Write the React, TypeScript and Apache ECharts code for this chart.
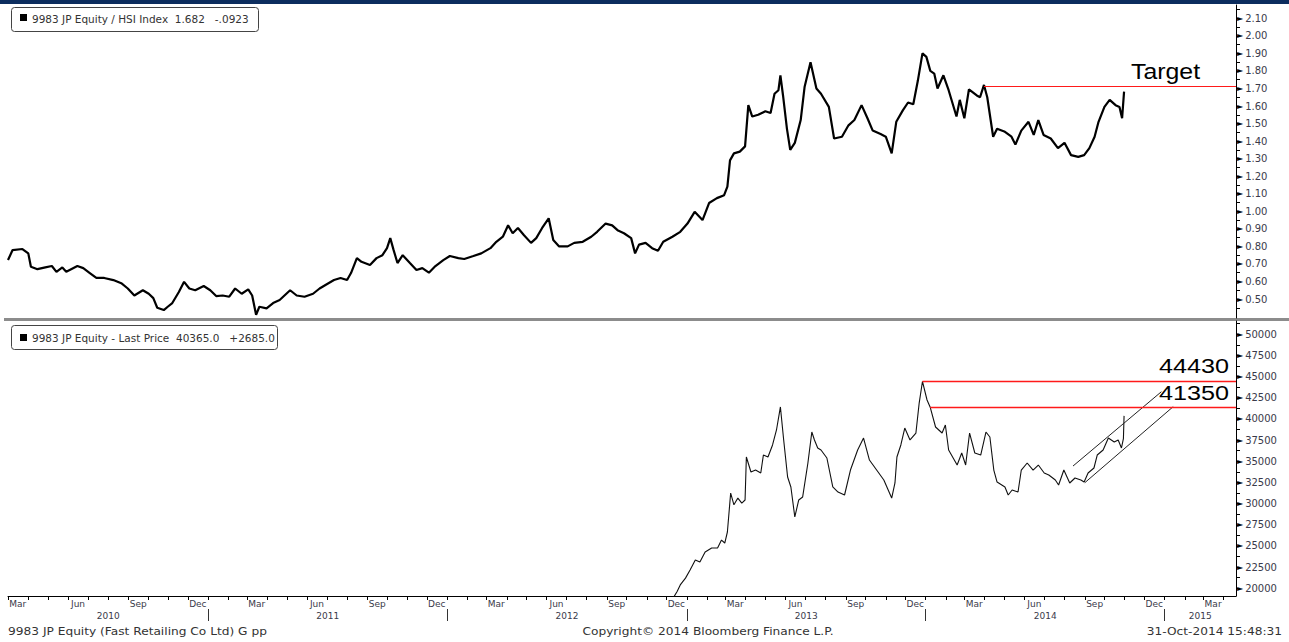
import React, { useEffect, useRef } from 'react';
import * as echarts from 'echarts';

// ---- Data: 9983 JP Equity / HSI Index ratio (top panel) ----
const ratioDates = [
  '2010-03-01','2010-03-08','2010-03-23','2010-04-01','2010-04-05','2010-04-15','2010-04-27','2010-05-07','2010-05-14','2010-05-23',
  '2010-05-29','2010-06-15','2010-06-24','2010-07-04','2010-07-14','2010-07-26','2010-08-09','2010-08-21','2010-08-31','2010-09-10',
  '2010-09-23','2010-10-02','2010-10-09','2010-10-15','2010-10-25','2010-10-31','2010-11-07','2010-11-17','2010-11-25','2010-12-03',
  '2010-12-12','2010-12-25','2011-01-04','2011-01-13','2011-01-23','2011-02-02','2011-02-11','2011-02-21','2011-03-03','2011-03-09',
  '2011-03-15','2011-03-20','2011-03-31','2011-04-10','2011-04-20','2011-05-06','2011-05-16','2011-05-28','2011-06-10','2011-06-20',
  '2011-06-29','2011-07-12','2011-07-22','2011-08-01','2011-08-07','2011-08-16','2011-08-23','2011-09-05','2011-09-15','2011-09-24',
  '2011-10-01','2011-10-06','2011-10-11','2011-10-17','2011-10-25','2011-11-05','2011-11-15','2011-11-24','2011-12-04','2011-12-14',
  '2011-12-26','2012-01-05','2012-01-18','2012-01-27','2012-02-10','2012-02-22','2012-03-07','2012-03-16','2012-03-26','2012-04-03',
  '2012-04-10','2012-04-18','2012-04-27','2012-05-08','2012-05-16','2012-05-25','2012-06-04','2012-06-11','2012-06-20','2012-07-03',
  '2012-07-13','2012-07-26','2012-08-08','2012-08-17','2012-08-30','2012-09-09','2012-09-18','2012-09-27','2012-10-08','2012-10-14',
  '2012-10-20','2012-10-30','2012-11-09','2012-11-18','2012-11-26','2012-12-10','2012-12-22','2013-01-02','2013-01-13','2013-01-25',
  '2013-02-04','2013-02-16','2013-02-27','2013-03-04','2013-03-08','2013-03-14','2013-03-23','2013-03-31','2013-04-05','2013-04-11',
  '2013-04-20','2013-05-01','2013-05-09','2013-05-15','2013-05-21','2013-05-24','2013-05-28','2013-06-03','2013-06-08','2013-06-15',
  '2013-06-24','2013-06-30','2013-07-09','2013-07-18','2013-07-25','2013-08-06','2013-08-14','2013-08-26','2013-09-05','2013-09-14',
  '2013-09-25','2013-10-04','2013-10-12','2013-10-24','2013-11-01','2013-11-10','2013-11-17','2013-11-27','2013-12-05','2013-12-13',
  '2013-12-20','2013-12-27','2014-01-02','2014-01-08','2014-01-14','2014-01-19','2014-01-28','2014-02-05','2014-02-17','2014-02-22',
  '2014-03-01','2014-03-08','2014-03-20','2014-03-25','2014-03-31','2014-04-05','2014-04-14','2014-04-20','2014-05-01','2014-05-12',
  '2014-05-18','2014-05-27','2014-06-07','2014-06-15','2014-06-22','2014-06-30','2014-07-11','2014-07-22','2014-08-01','2014-08-11',
  '2014-08-22','2014-08-31','2014-09-08','2014-09-16','2014-09-22','2014-10-01','2014-10-09','2014-10-18','2014-10-24','2014-10-28',
  '2014-10-31'
];
const ratioValues = [
  0.722,0.779,0.785,0.76,0.684,0.67,0.68,0.688,0.655,0.68,
  0.655,0.688,0.676,0.648,0.62,0.62,0.608,0.59,0.56,0.52,
  0.55,0.53,0.505,0.45,0.437,0.456,0.477,0.54,0.598,0.56,
  0.55,0.574,0.55,0.517,0.52,0.513,0.56,0.53,0.555,0.52,
  0.41,0.456,0.447,0.477,0.494,0.55,0.52,0.513,0.53,0.56,
  0.58,0.608,0.62,0.608,0.648,0.733,0.712,0.694,0.733,0.75,
  0.79,0.847,0.78,0.705,0.75,0.705,0.665,0.676,0.65,0.688,
  0.722,0.745,0.733,0.728,0.745,0.76,0.79,0.826,0.855,0.92,
  0.875,0.905,0.865,0.82,0.847,0.905,0.96,0.836,0.80,0.80,
  0.82,0.826,0.855,0.883,0.93,0.92,0.89,0.875,0.847,0.76,
  0.81,0.82,0.79,0.775,0.826,0.855,0.883,0.93,0.997,0.95,
  1.047,1.075,1.092,1.14,1.29,1.33,1.34,1.37,1.605,1.54,
  1.55,1.57,1.56,1.67,1.69,1.775,1.66,1.47,1.35,1.39,
  1.52,1.71,1.85,1.70,1.67,1.595,1.415,1.425,1.49,1.52,
  1.605,1.53,1.46,1.44,1.425,1.33,1.51,1.575,1.62,1.61,
  1.745,1.90,1.88,1.80,1.785,1.70,1.775,1.69,1.54,1.635,
  1.53,1.695,1.66,1.65,1.72,1.65,1.425,1.47,1.455,1.425,
  1.38,1.46,1.51,1.435,1.52,1.435,1.415,1.36,1.39,1.32,
  1.31,1.32,1.36,1.425,1.51,1.595,1.635,1.605,1.595,1.53,
  1.682
];

// ---- Data: 9983 JP Equity last price (bottom panel) ----
const priceDates = [
  '2012-12-10','2012-12-17','2012-12-22','2012-12-30','2013-01-06','2013-01-14','2013-01-21','2013-01-29','2013-02-08','2013-02-17',
  '2013-02-23','2013-02-28','2013-03-04','2013-03-09','2013-03-14','2013-03-20','2013-03-26','2013-03-31','2013-04-02','2013-04-09',
  '2013-04-16','2013-04-24','2013-04-28','2013-05-05','2013-05-12','2013-05-18','2013-05-24','2013-05-29','2013-06-04','2013-06-09',
  '2013-06-15','2013-06-21','2013-06-27','2013-07-05','2013-07-11','2013-07-15','2013-07-20','2013-07-25','2013-08-03','2013-08-12',
  '2013-08-20','2013-08-30','2013-09-08','2013-09-19','2013-09-28','2013-10-07','2013-10-18','2013-10-29','2013-11-10','2013-11-15',
  '2013-11-18','2013-11-24','2013-11-30','2013-12-08','2013-12-17','2013-12-22','2013-12-27','2014-01-03','2014-01-08','2014-01-16',
  '2014-01-26','2014-01-31','2014-02-05','2014-02-18','2014-02-25','2014-03-03','2014-03-09','2014-03-17','2014-03-26','2014-04-03',
  '2014-04-09','2014-04-15','2014-04-20','2014-05-02','2014-05-07','2014-05-13','2014-05-22','2014-05-27','2014-06-05','2014-06-14',
  '2014-06-22','2014-07-01','2014-07-08','2014-07-18','2014-07-23','2014-07-31','2014-08-09','2014-08-17','2014-08-26','2014-08-31',
  '2014-09-06','2014-09-15','2014-09-20','2014-09-29','2014-10-07','2014-10-16','2014-10-22','2014-10-27','2014-10-30','2014-10-31'
];
const priceValues = [
  18700,19600,20400,21200,22160,23340,23100,24290,24760,24760,
  25700,25350,26650,31250,29860,30660,30070,30430,35510,33740,
  33970,33620,35740,35510,36930,38700,41420,37520,33150,31970,
  28430,30430,30790,34800,38460,37520,36570,36330,35390,31970,
  31370,31020,33970,36330,37750,35150,33970,32790,30660,32440,
  35510,36930,38930,37520,38340,41880,44430,42240,41350,39050,
  38340,39290,36330,34560,35980,34560,38340,35980,35740,38460,
  37870,33970,32550,31970,31020,31610,31370,33970,34800,33970,
  34560,33620,33380,32790,32200,33970,32440,33030,32790,32550,
  33620,34210,35740,36330,37750,37280,37520,36570,37680,40365
];

// ---- Annotations ----
const targetLevel = 1.71;
const targetStart = '2014-03-31';
const resistanceLevels = [44430, 41350];
const resistanceStarts = ['2013-12-27', '2014-01-08'];
const channelUpper = [['2014-08-14', 34440], ['2014-12-27', 43220]];
const channelLower = [['2014-09-01', 32470], ['2015-01-14', 41450]];

// ---- Tick labels ----
const ratioTickLabels = [0.5,0.6,0.7,0.8,0.9,1.0,1.1,1.2,1.3,1.4,1.5,1.6,1.7,1.8,1.9,2.0,2.1];
const priceTickLabels = [20000,22500,25000,27500,30000,32500,35000,37500,40000,42500,45000,47500,50000];
const monthNames = ['Jan','Feb','Mar','Apr','May','Jun','Jul','Aug','Sep','Oct','Nov','Dec'];
const labelMonths = [2, 5, 8, 11];
const yearLabels = [2010, 2011, 2012, 2013, 2014, 2015];

const T = (s: string) => Date.parse(s + 'T00:00:00Z');
const xMin = Date.UTC(2010, 2, 1);
const xMax = Date.UTC(2015, 3, 20);

export default function App() {
  const ref = useRef<HTMLDivElement>(null);
  useEffect(() => {
    if (!ref.current) return;
    const chart = echarts.init(ref.current, undefined, { renderer: 'svg' });

    const monthTicks: number[] = [];
    const monthLabelVals: number[] = [];
    for (const y of yearLabels) {
      for (let m = 0; m < 12; m++) {
        const v = Date.UTC(y, m, 1);
        if (v >= xMin && v <= xMax) monthTicks.push(v);
        const c = Date.UTC(y, m, 16);
        if (labelMonths.includes(m) && c >= xMin && c <= xMax) monthLabelVals.push(c);
      }
    }
    const yearSeps: number[] = [];
    const yearCenters: number[] = [];
    for (const y of yearLabels) {
      const s = Math.max(xMin, Date.UTC(y, 0, 1));
      const e = Math.min(xMax, Date.UTC(y + 1, 0, 1));
      yearCenters.push((s + e) / 2);
      if (Date.UTC(y, 0, 1) > xMin) yearSeps.push(Date.UTC(y, 0, 1));
    }
    const ratioMinor: number[] = [];
    ratioTickLabels.forEach((v) => { ratioMinor.push(+(v - 0.05).toFixed(2)); ratioMinor.push(v); });
    ratioMinor.push(2.15);
    const priceMinor: number[] = [];
    priceTickLabels.forEach((v) => { if (v - 1250 > 19091) priceMinor.push(v - 1250); priceMinor.push(v); });
    priceMinor.push(51250);

    const rich = {
      a: { fontSize: 8, color: '#000', fontFamily: 'DejaVu Sans' },
      b: { fontSize: 10, color: '#3a3a4a', fontFamily: 'DejaVu Sans', padding: [0, 0, 0, 2] },
    };
    const font = 'DejaVu Sans';
    const RED = '#ff1a1a';

    const resistanceSeries = resistanceLevels.map((lv, i) => ({
      type: 'line', xAxisIndex: 1, yAxisIndex: 1, showSymbol: false, silent: true, z: 5,
      data: [[T(resistanceStarts[i]), lv], [xMax, lv]],
      lineStyle: { color: RED, width: 1.4, opacity: 1 }, itemStyle: { color: RED },
    }));

    const option: any = {
      animation: false,
      backgroundColor: '#ffffff',
      grid: [
        { left: 8, top: 5, width: 1228, height: 313 },
        { left: 8, top: 321, width: 1228, height: 275 },
      ],
      xAxis: [
        { gridIndex: 0, type: 'value', min: xMin, max: xMax, show: false },
        {
          gridIndex: 1, type: 'value', min: xMin, max: xMax, position: 'bottom',
          axisLine: { show: true, lineStyle: { color: '#000', width: 1 } },
          axisTick: { show: true, customValues: monthTicks, length: 4, lineStyle: { color: '#000' } },
          axisLabel: {
            customValues: monthLabelVals, margin: 3, fontSize: 9, fontFamily: font, color: '#3a3a4a',
            formatter: (v: number) => monthNames[new Date(v).getUTCMonth()],
          },
          splitLine: { show: false },
        },
        {
          gridIndex: 1, type: 'value', min: xMin, max: xMax, position: 'bottom', offset: 13,
          axisLine: { show: false },
          axisTick: { show: true, customValues: yearSeps, length: 12, lineStyle: { color: '#333' } },
          axisLabel: {
            customValues: yearCenters, margin: 2, fontSize: 9, fontFamily: font, color: '#3a3a4a',
            formatter: (v: number) => String(new Date(v).getUTCFullYear()),
          },
          splitLine: { show: false },
        },
      ],
      yAxis: [
        {
          gridIndex: 0, type: 'value', position: 'right', min: 0.3918, max: 2.1757,
          axisLine: { show: true, lineStyle: { color: '#000', width: 1 } },
          axisTick: { show: true, customValues: ratioMinor, length: 4, lineStyle: { color: '#000' } },
          axisLabel: {
            customValues: ratioTickLabels, margin: 1, rich,
            formatter: (v: number) => '{a|►}{b|' + v.toFixed(2) + '}',
          },
          splitLine: { show: false },
        },
        {
          gridIndex: 1, type: 'value', position: 'right', min: 19091, max: 51571,
          axisLine: { show: true, lineStyle: { color: '#000', width: 1 } },
          axisTick: { show: true, customValues: priceMinor, length: 4, lineStyle: { color: '#000' } },
          axisLabel: {
            customValues: priceTickLabels, margin: 1, rich,
            formatter: (v: number) => '{a|►}{b|' + String(Math.round(v)) + '}',
          },
          splitLine: { show: false },
        },
      ],
      series: [
        {
          name: '9983 JP Equity / HSI Index', type: 'line', xAxisIndex: 0, yAxisIndex: 0,
          data: ratioDates.map((d, i) => [T(d), ratioValues[i]]),
          showSymbol: false, lineStyle: { color: '#000', width: 2.2 }, itemStyle: { color: '#000' },
          markLine: {
            silent: true, symbol: ['none', 'none'], label: { show: false },
            lineStyle: { color: RED, width: 1.2, type: 'solid' },
            data: [[{ coord: [T(targetStart), targetLevel] }, { coord: [xMax, targetLevel] }]],
          },
        },
        {
          name: '9983 JP Equity - Last Price', type: 'line', xAxisIndex: 1, yAxisIndex: 1,
          data: priceDates.map((d, i) => [T(d), priceValues[i]]),
          showSymbol: false, lineStyle: { color: '#111', width: 1.1 }, itemStyle: { color: '#111' },
        },
        ...resistanceSeries,
        {
          type: 'line', xAxisIndex: 1, yAxisIndex: 1, showSymbol: false, silent: true,
          data: channelUpper.map((p) => [T(p[0] as string), p[1]]),
          lineStyle: { color: '#222', width: 1 }, itemStyle: { color: '#222' },
        },
        {
          type: 'line', xAxisIndex: 1, yAxisIndex: 1, showSymbol: false, silent: true,
          data: channelLower.map((p) => [T(p[0] as string), p[1]]),
          lineStyle: { color: '#222', width: 1 }, itemStyle: { color: '#222' },
        },
      ],
      graphic: [
        { type: 'rect', shape: { x: 0, y: 0, width: 1289, height: 4 }, style: { fill: '#0c2d5e' }, silent: true },
        { type: 'rect', shape: { x: 4, y: 318, width: 1285, height: 3 }, style: { fill: '#8c8c8c' }, silent: true },
        // top legend
        { type: 'rect', shape: { x: 11.5, y: 7.5, width: 247, height: 24, r: 3 }, style: { fill: '#fff', stroke: '#444', lineWidth: 1 } },
        { type: 'rect', shape: { x: 20, y: 14, width: 7, height: 7 }, style: { fill: '#000' } },
        { type: 'text', x: 32, y: 19.5, scaleX: 1.05, style: { text: '9983 JP Equity / HSI Index  1.682   -.0923', fontSize: 10, fontFamily: font, fill: '#333', verticalAlign: 'middle' } },
        // bottom legend
        { type: 'rect', shape: { x: 11.5, y: 325.5, width: 266, height: 24, r: 3 }, style: { fill: '#fff', stroke: '#444', lineWidth: 1 } },
        { type: 'rect', shape: { x: 20, y: 334, width: 7, height: 7 }, style: { fill: '#000' } },
        { type: 'text', x: 32, y: 338, scaleX: 1.05, style: { text: '9983 JP Equity - Last Price  40365.0   +2685.0', fontSize: 10, fontFamily: font, fill: '#333', verticalAlign: 'middle' } },
        // annotations
        { type: 'text', x: 1131, y: 72, scaleX: 1.13, style: { text: 'Target', fontSize: 22, fontFamily: 'Liberation Sans', fill: '#000', verticalAlign: 'middle' } },
        { type: 'text', x: 1159, y: 365.5, scaleX: 1.2, style: { text: '44430', fontSize: 21, fontFamily: 'Liberation Sans', fill: '#000', verticalAlign: 'middle' } },
        { type: 'text', x: 1159, y: 393, scaleX: 1.2, style: { text: '41350', fontSize: 21, fontFamily: 'Liberation Sans', fill: '#000', verticalAlign: 'middle' } },
        // footer
        { type: 'text', x: 8, y: 632, scaleX: 1.22, style: { text: '9983 JP Equity (Fast Retailing Co Ltd) G pp', fontSize: 10, fontFamily: font, fill: '#333', verticalAlign: 'middle' } },
        { type: 'text', x: 708, y: 632, scaleX: 1.22, style: { text: 'Copyright© 2014 Bloomberg Finance L.P.', fontSize: 10, fontFamily: font, fill: '#333', align: 'center', verticalAlign: 'middle' } },
        { type: 'text', x: 1282, y: 632, scaleX: 1.22, style: { text: '31-Oct-2014 15:48:31', fontSize: 10, fontFamily: font, fill: '#333', align: 'right', verticalAlign: 'middle' } },
      ],
    };
    chart.setOption(option);
    return () => chart.dispose();
  }, []);
  return (
    <div
      ref={ref}
      style={{ position: 'absolute', left: 0, top: 0, width: 1289, height: 642, background: '#fff' }}
    />
  );
}
